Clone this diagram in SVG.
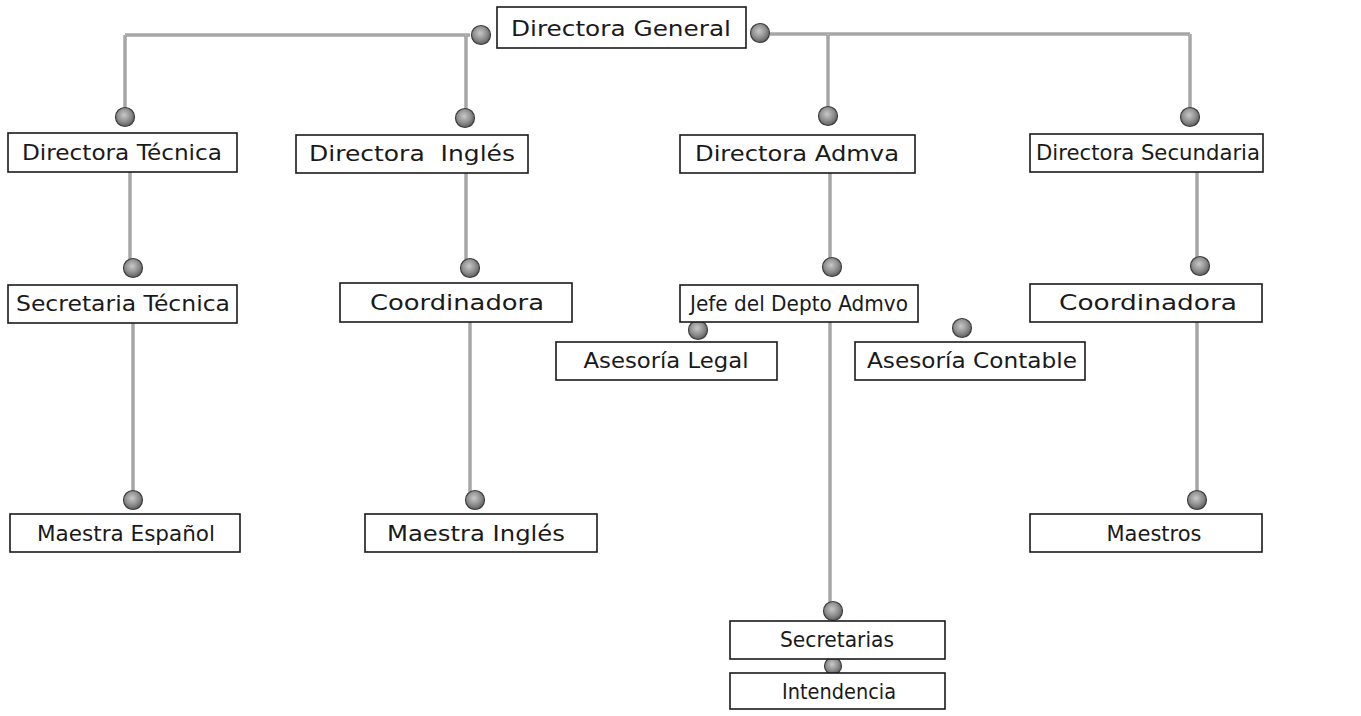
<svg xmlns="http://www.w3.org/2000/svg" width="1361" height="716" viewBox="0 0 1361 716">
<style>
.box{fill:#fff;stroke:#1a1a1a;stroke-width:1.6}
.lbl{font-family:"DejaVu Sans","Liberation Sans",sans-serif;font-size:22px;fill:#1a1a1a;text-anchor:middle}
.ln{fill:none;stroke:#7c7c7c;stroke-width:3}
.ln2{fill:none;stroke:#d0d0d0;stroke-width:1}
.dot{fill:url(#dg);stroke:#3e3e3e;stroke-width:1.2}
</style>
<defs>
<radialGradient id="dg" cx="0.45" cy="0.4" r="0.6">
<stop offset="0" stop-color="#c8c8c8"/>
<stop offset="0.6" stop-color="#8e8e8e"/>
<stop offset="1" stop-color="#5e5e5e"/>
</radialGradient>
</defs>
<rect width="1361" height="716" fill="#fff"/>
<g id="connectors">
<path class="ln" d="M125,35 H470 M125,35 V110 M466,35 V110 M770,34 H1190 M828,34 V108 M1190,34 V108 M130,172 V260 M466,173 V260 M830,173 V258 M1197,172 V258 M133,323 V492 M470,322 V492 M1197,322 V492 M830,322 V604"/>
<path class="ln2" d="M125,35 H470 M125,35 V110 M466,35 V110 M770,34 H1190 M828,34 V108 M1190,34 V108 M130,172 V260 M466,173 V260 M830,173 V258 M1197,172 V258 M133,323 V492 M470,322 V492 M1197,322 V492 M830,322 V604"/>
<circle class="dot" cx="481" cy="35" r="9.5"/>
<circle class="dot" cx="760" cy="33" r="9.5"/>
<circle class="dot" cx="125" cy="117" r="9.5"/>
<circle class="dot" cx="465" cy="118" r="9.5"/>
<circle class="dot" cx="828" cy="116" r="9.5"/>
<circle class="dot" cx="1190" cy="117" r="9.5"/>
<circle class="dot" cx="133" cy="268" r="9.5"/>
<circle class="dot" cx="470" cy="268" r="9.5"/>
<circle class="dot" cx="832" cy="267" r="9.5"/>
<circle class="dot" cx="1200" cy="266" r="9.5"/>
<circle class="dot" cx="698" cy="330" r="9.5"/>
<circle class="dot" cx="962" cy="328" r="9.5"/>
<circle class="dot" cx="133" cy="500" r="9.5"/>
<circle class="dot" cx="475" cy="500" r="9.5"/>
<circle class="dot" cx="1197" cy="500" r="9.5"/>
<circle class="dot" cx="833" cy="611" r="9.5"/>
<circle class="dot" cx="833" cy="666" r="8.5"/>
</g>
<g id="n-general"><rect class="box" x="497" y="7" width="249" height="41"/><text class="lbl" x="621" y="36" textLength="220" lengthAdjust="spacingAndGlyphs">Directora General</text></g>
<g id="n-tecnica"><rect class="box" x="8" y="133" width="229" height="39"/><text class="lbl" x="122" y="160" textLength="200" lengthAdjust="spacingAndGlyphs">Directora Técnica</text></g>
<g id="n-ingles"><rect class="box" x="296" y="135" width="232" height="38"/><text class="lbl" x="412" y="161" textLength="206" lengthAdjust="spacingAndGlyphs" xml:space="preserve">Directora  Inglés</text></g>
<g id="n-admva"><rect class="box" x="680" y="135" width="235" height="38"/><text class="lbl" x="797" y="161" textLength="204" lengthAdjust="spacingAndGlyphs">Directora Admva</text></g>
<g id="n-secundaria"><rect class="box" x="1030" y="134" width="233" height="38"/><text class="lbl" x="1148" y="160" textLength="224" lengthAdjust="spacingAndGlyphs">Directora Secundaria</text></g>
<g id="n-sectecnica"><rect class="box" x="8" y="285" width="229" height="38"/><text class="lbl" x="123" y="311" textLength="214" lengthAdjust="spacingAndGlyphs">Secretaria Técnica</text></g>
<g id="n-coord1"><rect class="box" x="340" y="283" width="232" height="39"/><text class="lbl" x="457" y="310" textLength="174" lengthAdjust="spacingAndGlyphs">Coordinadora</text></g>
<g id="n-jefe"><rect class="box" x="680" y="285" width="238" height="37"/><text class="lbl" x="799" y="311" textLength="218" lengthAdjust="spacingAndGlyphs">Jefe del Depto Admvo</text></g>
<g id="n-coord2"><rect class="box" x="1030" y="284" width="232" height="38"/><text class="lbl" x="1148" y="310" textLength="178" lengthAdjust="spacingAndGlyphs">Coordinadora</text></g>
<g id="n-legal"><rect class="box" x="556" y="342" width="221" height="38"/><text class="lbl" x="666" y="368" textLength="165" lengthAdjust="spacingAndGlyphs">Asesoría Legal</text></g>
<g id="n-contable"><rect class="box" x="855" y="342" width="230" height="38"/><text class="lbl" x="972" y="368" textLength="210" lengthAdjust="spacingAndGlyphs">Asesoría Contable</text></g>
<g id="n-mespanol"><rect class="box" x="10" y="514" width="230" height="38"/><text class="lbl" x="126" y="541" textLength="178" lengthAdjust="spacingAndGlyphs">Maestra Español</text></g>
<g id="n-mingles"><rect class="box" x="365" y="514" width="232" height="38"/><text class="lbl" x="476" y="541" textLength="178" lengthAdjust="spacingAndGlyphs">Maestra Inglés</text></g>
<g id="n-maestros"><rect class="box" x="1030" y="514" width="232" height="38"/><text class="lbl" x="1154" y="541" textLength="95" lengthAdjust="spacingAndGlyphs">Maestros</text></g>
<g id="n-secretarias"><rect class="box" x="730" y="621" width="215" height="38"/><text class="lbl" x="837" y="647" textLength="114" lengthAdjust="spacingAndGlyphs">Secretarias</text></g>
<g id="n-intendencia"><rect class="box" x="730" y="673" width="215" height="36"/><text class="lbl" x="839" y="699" textLength="114" lengthAdjust="spacingAndGlyphs">Intendencia</text></g>
</svg>
